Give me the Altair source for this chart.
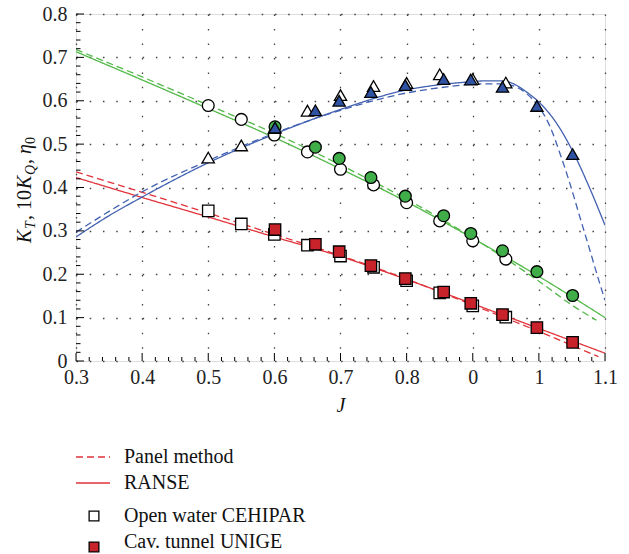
import altair as alt
import pandas as pd

# ---------------- data ----------------
J_kt_ranse = [0.3, 0.4, 0.5, 0.6, 0.7, 0.8, 0.9, 1.0, 1.1]
kt_ranse = [0.423, 0.377, 0.332, 0.286, 0.241, 0.188, 0.132, 0.075, 0.018]
J_kt_panel = [0.3, 0.4, 0.5, 0.6, 0.7, 0.8, 0.9, 1.0, 1.09]
kt_panel = [0.436, 0.389, 0.341, 0.292, 0.243, 0.189, 0.129, 0.068, 0.010]

J_kq_ranse = [0.3, 0.4, 0.5, 0.6, 0.7, 0.8, 0.9, 1.0, 1.1]
kq_ranse = [0.713, 0.648, 0.582, 0.515, 0.443, 0.367, 0.283, 0.195, 0.100]
J_kq_panel = [0.3, 0.4, 0.5, 0.6, 0.7, 0.8, 0.9, 1.0, 1.05, 1.087]
kq_panel = [0.718, 0.655, 0.590, 0.525, 0.452, 0.373, 0.284, 0.184, 0.129, 0.094]

J_eta_ranse = [0.3, 0.35, 0.4, 0.5, 0.6, 0.7, 0.8, 0.85, 0.9, 0.92, 0.94, 0.955,
               0.97, 0.985, 1.0, 1.025, 1.05, 1.075, 1.1]
eta_ranse = [0.286, 0.335, 0.378, 0.457, 0.523, 0.580, 0.625, 0.637, 0.644, 0.646,
             0.646, 0.643, 0.632, 0.616, 0.597, 0.552, 0.487, 0.405, 0.313]
J_eta_panel = [0.3, 0.35, 0.4, 0.5, 0.6, 0.7, 0.8, 0.85, 0.9, 0.92, 0.945, 0.96,
               0.975, 0.99, 1.0, 1.017, 1.032, 1.047, 1.062, 1.077, 1.092, 1.1]
eta_panel = [0.297, 0.345, 0.390, 0.462, 0.525, 0.578, 0.618, 0.630, 0.638, 0.639,
             0.639, 0.635, 0.624, 0.604, 0.586, 0.540, 0.478, 0.409, 0.332, 0.256,
             0.179, 0.140]

# open water CEHIPAR (white markers)
J_ow = [0.5, 0.55, 0.6, 0.65, 0.7, 0.75, 0.8, 0.85, 0.9, 0.95]
kt_ow = [0.346, 0.316, 0.292, 0.267, 0.242, 0.216, 0.185, 0.157, 0.127, 0.101]
kq_ow = [0.589, 0.557, 0.521, 0.482, 0.442, 0.406, 0.365, 0.323, 0.277, 0.235]
eta_ow = [0.469, 0.497, 0.537, 0.577, 0.613, 0.634, 0.641, 0.661, 0.650, 0.642]

# cavitation tunnel UNIGE (filled markers)
J_ct = [0.601, 0.662, 0.698, 0.746, 0.798, 0.856, 0.897, 0.945, 0.997, 1.051]
kt_ct = [0.303, 0.269, 0.252, 0.220, 0.190, 0.159, 0.133, 0.107, 0.077, 0.043]
kq_ct = [0.540, 0.493, 0.467, 0.423, 0.380, 0.335, 0.294, 0.254, 0.206, 0.151]
eta_ct = [0.538, 0.578, 0.600, 0.620, 0.636, 0.650, 0.649, 0.632, 0.588, 0.477]

x_ticks = [round(0.3 + 0.1 * i, 2) for i in range(9)]
y_ticks = [round(0.1 * i, 2) for i in range(9)]
x_minor = [round(0.3 + 0.02 * i, 2) for i in range(41) if i % 5]
y_minor = [round(0.02 * i, 2) for i in range(41) if i % 5]

qty_domain = ["KT", "KQ", "ETA"]
line_colors = ["#e0333a", "#52b848", "#4261b0"]
fill_colors = ["#c8222a", "#3fae49", "#2f52a2"]
shapes = ["square", "circle", "triangle-up"]

FONT = "Liberation Serif"
W, H = 529, 347

# ---------------- tables ----------------
rows = []
for J, v, q, m in [
    (J_kt_ranse, kt_ranse, "KT", "RANSE"), (J_kt_panel, kt_panel, "KT", "Panel"),
    (J_kq_ranse, kq_ranse, "KQ", "RANSE"), (J_kq_panel, kq_panel, "KQ", "Panel"),
    (J_eta_ranse, eta_ranse, "ETA", "RANSE"), (J_eta_panel, eta_panel, "ETA", "Panel"),
]:
    for a, b in zip(J, v):
        rows.append({"J": a, "v": b, "qty": q, "method": m, "curve": q + m})
lines_df = pd.DataFrame(rows)

ow_rows, ct_rows = [], []
for q, vals in [("KT", kt_ow), ("KQ", kq_ow), ("ETA", eta_ow)]:
    for a, b in zip(J_ow, vals):
        ow_rows.append({"J": a, "v": b, "qty": q})
for q, vals in [("KT", kt_ct), ("KQ", kq_ct), ("ETA", eta_ct)]:
    for a, b in zip(J_ct, vals):
        ct_rows.append({"J": a, "v": b, "qty": q})
ow_df = pd.DataFrame(ow_rows)
ct_df = pd.DataFrame(ct_rows)

xscale = alt.Scale(domain=[0.3, 1.1], nice=False, zero=False)
yscale = alt.Scale(domain=[0, 0.8], nice=False, zero=False)

x_axis = alt.Axis(values=x_ticks, format=".1~f",
                  labelExpr="abs(datum.value-0.9)<0.001 ? '0' : datum.label",
                  title=None, ticks=False, domain=False, grid=True,
                  gridDash=[1.5, 12.97], gridColor="#444", gridWidth=1.3,
                  labelFont=FONT, labelFontSize=20, labelColor="#222",
                  labelPadding=6, labelFlush=False)
y_axis = alt.Axis(values=y_ticks, format=".1~f", title=None, ticks=False,
                  domain=False, grid=True, gridDash=[1.5, 11.73], gridColor="#444",
                  gridWidth=1.3, labelFont=FONT, labelFontSize=20,
                  labelColor="#222", labelPadding=9, labelFlush=False)


def X(field):
    return alt.X(field, scale=xscale, axis=x_axis)


def Y(field):
    return alt.Y(field, scale=yscale, axis=y_axis)


lines = alt.Chart(lines_df).mark_line(strokeWidth=1.3, interpolate="monotone", clip=True).encode(
    x=X("J:Q"), y=Y("v:Q"),
    color=alt.Color("qty:N", scale=alt.Scale(domain=qty_domain, range=line_colors), legend=None),
    strokeDash=alt.StrokeDash("method:N", scale=alt.Scale(domain=["Panel", "RANSE"], range=[[7, 4], [1, 0]]), legend=None),
    detail="curve:N",
)

shape_enc = alt.Shape("qty:N", scale=alt.Scale(domain=qty_domain, range=shapes), legend=None)
size_enc = alt.Size("qty:N", scale=alt.Scale(domain=qty_domain, range=[130, 150, 175]), legend=None)

ow_pts = alt.Chart(ow_df).mark_point(filled=True, fill="white", stroke="black", strokeWidth=1.3, opacity=1).encode(
    x=X("J:Q"), y=Y("v:Q"), shape=shape_enc, size=size_enc,
)
ct_pts = alt.Chart(ct_df).mark_point(filled=True, stroke="black", strokeWidth=1.3, opacity=1).encode(
    x=X("J:Q"), y=Y("v:Q"), shape=shape_enc, size=size_enc,
    fill=alt.Fill("qty:N", scale=alt.Scale(domain=qty_domain, range=fill_colors), legend=None),
)

# inward ticks
xt_major = alt.Chart(pd.DataFrame({"J": x_ticks})).mark_rule(color="black", strokeWidth=1).encode(
    x=X("J:Q"), y=alt.value(H), y2=alt.value(H - 8))
xt_minor = alt.Chart(pd.DataFrame({"J": x_minor})).mark_rule(color="black", strokeWidth=1).encode(
    x=X("J:Q"), y=alt.value(H), y2=alt.value(H - 4))
yt_major = alt.Chart(pd.DataFrame({"v": y_ticks})).mark_rule(color="black", strokeWidth=1).encode(
    y=Y("v:Q"), x=alt.value(0), x2=alt.value(8))
yt_minor = alt.Chart(pd.DataFrame({"v": y_minor})).mark_rule(color="black", strokeWidth=1).encode(
    y=Y("v:Q"), x=alt.value(0), x2=alt.value(4.5))

dummy = pd.DataFrame({"d": [0]})


def txt(s, x, y, size=20, italic=False, angle=0, baseline="alphabetic", align="left"):
    kw = dict(text=s, font=FONT, fontSize=size, color="#111", align=align, baseline=baseline)
    if italic:
        kw["fontStyle"] = "italic"
    if angle:
        kw["angle"] = angle
    return alt.Chart(dummy).mark_text(**kw).encode(x=alt.value(x), y=alt.value(y))


# y-axis title pieces (rotated)
ytitle = [
    txt("K", -45, 229, 20, True, 270),
    txt("T", -41, 215, 14, True, 270),
    txt(", 10", -45, 206, 20, False, 270),
    txt("K", -45, 175, 20, True, 270),
    txt("Q", -41, 161, 14, True, 270),
    txt(",", -45, 150, 20, False, 270),
    txt("η", -45, 140, 20, True, 270),
    txt("0", -41, 130, 14, False, 270),
]

xtitle = txt("J", 265, 398, 20, True, 0, "alphabetic", "center")

# legend
leg_dash = alt.Chart(dummy).mark_rule(color=line_colors[0], strokeWidth=1.3, strokeDash=[7, 4]).encode(
    x=alt.value(0), x2=alt.value(34), y=alt.value(443))
leg_solid = alt.Chart(dummy).mark_rule(color=line_colors[0], strokeWidth=1.3).encode(
    x=alt.value(0), x2=alt.value(34), y=alt.value(469))
leg_sq1 = alt.Chart(dummy).mark_point(shape="square", filled=True, fill="white", stroke="black", strokeWidth=1.3, size=95, opacity=1).encode(
    x=alt.value(18), y=alt.value(502))
leg_sq2 = alt.Chart(dummy).mark_point(shape="square", filled=True, fill=fill_colors[0], stroke="black", strokeWidth=1.3, size=95, opacity=1).encode(
    x=alt.value(18), y=alt.value(533))
leg_txt = [
    txt("Panel method", 48, 443, 20, baseline="middle"),
    txt("RANSE", 48, 469, 20, baseline="middle"),
    txt("Open water CEHIPAR", 48, 502, 20, baseline="middle"),
    txt("Cav. tunnel UNIGE", 48, 528, 20, baseline="middle"),
]

chart = alt.layer(
    lines, xt_major, xt_minor, yt_major, yt_minor, ow_pts, ct_pts, *ytitle, xtitle,
    leg_dash, leg_solid, leg_sq1, leg_sq2, *leg_txt,
).properties(
    width=W, height=H,
    padding={"left": 76, "top": 14, "right": 24, "bottom": 193},
    autosize=alt.AutoSizeParams(type="none"),
).configure_view(
    stroke="black", strokeWidth=1.5
).configure_axis(
    labelFont=FONT, labelFontSize=20, labelColor="#222"
).configure(background="white", font=FONT)

chart.save("out.html", embed_options={"renderer": "svg", "actions": False})
